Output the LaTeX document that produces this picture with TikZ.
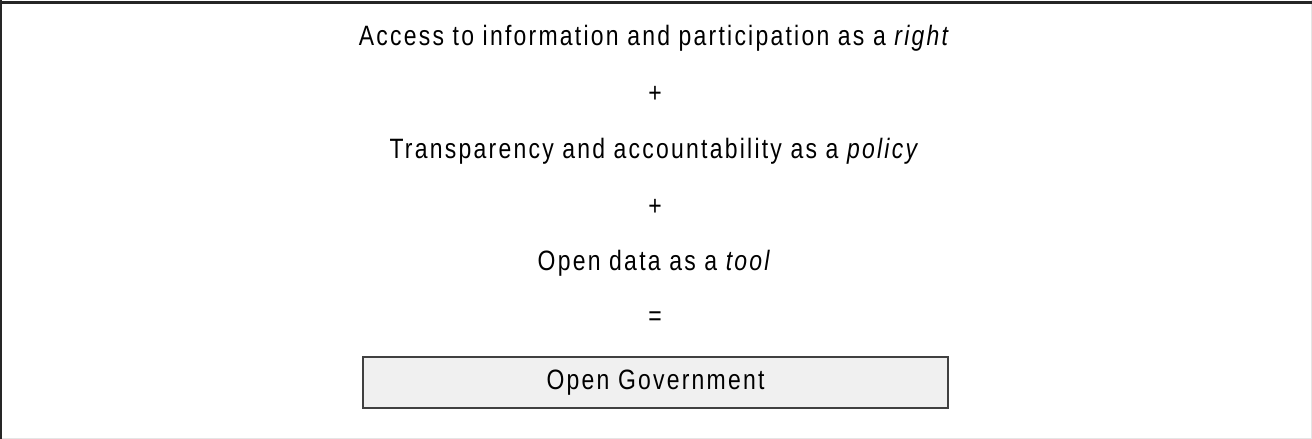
\documentclass[tikz,border=0pt]{standalone}
\usepackage{fontspec}
\setmainfont{Liberation Sans}[FakeStretch=0.82,LetterSpace=8]
\begin{document}
\begin{tikzpicture}[x=1pt,y=-1pt,
  line/.style={font=\fontsize{28}{32}\selectfont, inner sep=0pt, anchor=center},
  resultbox/.style={draw=black!75, line width=1.6pt, fill=black!6,
    minimum width=585pt, minimum height=51pt, inner sep=0pt,
    font=\fontsize{28}{32}\selectfont}]
  \useasboundingbox (0,0) rectangle (1312,439);
  % frame
  \draw[black!10, line width=1pt] (1311.5,0) -- (1311.5,439);
  \draw[black!10, line width=1pt] (0,438.5) -- (1312,438.5);
  \draw[black!85, line width=3pt] (0,2.8) -- (1312,2.8);
  \draw[black!85, line width=2.4pt] (1.2,0) -- (1.2,439);
  % terms
  \node[line] (right)  at (655,38)  {Access to information and participation as a \textit{right}};
  \node[line] (plus1)  at (655,94)  {+};
  \node[line] (policy) at (655,151) {Transparency and accountability as a \textit{policy}};
  \node[line] (plus2)  at (655,207) {+};
  \node[line] (tool)   at (655,263) {Open data as a \textit{tool}};
  \node[line] (eq)     at (655,319) {=};
  \node[resultbox] (og) at (655.5,382.5) {Open Government};
\end{tikzpicture}
\end{document}
